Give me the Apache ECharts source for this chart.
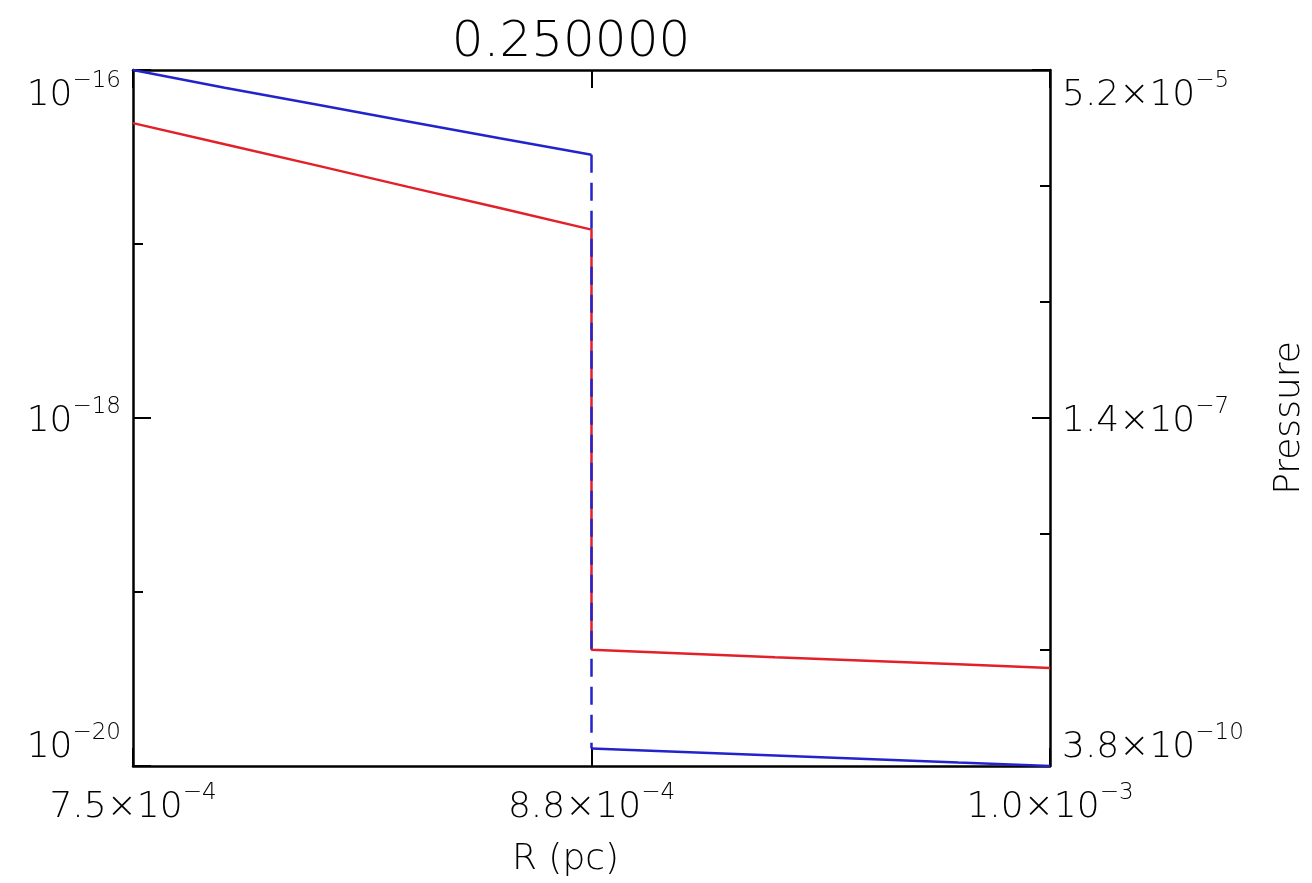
<!DOCTYPE html>
<html>
<head>
<meta charset="utf-8">
<script src="https://cdn.jsdelivr.net/npm/echarts@6/dist/echarts.min.js"></script>
<style>
  html, body { margin: 0; padding: 0; background: #ffffff; }
  #chart { width: 1312px; height: 883px; }
</style>
</head>
<body>
<div id="chart"></div>
<script>
// Shell profile at t = 0.25: density (left, log) and pressure (right, log) against radius.
const radiusInner   = [7.50e-4, 7.75e-4, 8.00e-4, 8.25e-4, 8.50e-4, 8.75e-4];
const densityInner  = [4.95e-17, 3.74e-17, 2.83e-17, 2.13e-17, 1.61e-17, 1.21e-17];
const pressureInner = [5.20e-5, 3.84e-5, 2.89e-5, 2.17e-5, 1.63e-5, 1.23e-5];

const radiusOuter   = [8.75e-4, 9.00e-4, 9.25e-4, 9.50e-4, 9.75e-4, 1.00e-3];
const densityOuter  = [4.65e-20, 4.43e-20, 4.22e-20, 4.03e-20, 3.84e-20, 3.66e-20];
const pressureOuter = [5.11e-10, 4.82e-10, 4.54e-10, 4.28e-10, 4.03e-10, 3.80e-10];

// Labelled ticks on each axis
const radiusTicks   = [7.5e-4, 8.75e-4, 1.0e-3];
const densityTicks  = [1e-20, 1e-18, 1e-16];
const pressureTicks = [3.8e-10, 1.4e-7, 5.2e-5];

const plotTitle = '0.250000';
const xName = 'R (pc)';
const rightName = 'Pressure';

const FONT = "'DejaVu Sans ExtraLight', 'DejaVu Sans', sans-serif";
const FW = 200;
const INK = '#000000';
const RED = '#e3202a';
const BLUE = '#2323cc';

// "m.m×10^e" (or "10^e") as rich text with a raised exponent
function sci(val, withMantissa) {
  let exp = Math.floor(Math.log10(val) + 1e-9);
  let mant = Math.round(val / Math.pow(10, exp) * 1e6) / 1e6;
  if (mant >= 9.95) { mant /= 10; exp += 1; }
  const sup = (exp < 0 ? '\u2212' : '') + Math.abs(exp);
  return (withMantissa ? '{b|' + mant.toFixed(1) + '\u00d710}' : '{b|10}') + '{s|' + sup + '}';
}

const richSci = {
  b: { fontFamily: FONT, fontWeight: FW, fontSize: 36, lineHeight: 44, verticalAlign: 'bottom', color: INK },
  s: { fontFamily: FONT, fontWeight: FW, fontSize: 23, lineHeight: 14, verticalAlign: 'top', color: INK }
};

const lg = Math.log10;
const densMin = lg(densityTicks[0]), densMax = lg(densityTicks[densityTicks.length - 1]);
const presMin = lg(pressureTicks[0]), presMax = lg(pressureTicks[pressureTicks.length - 1]);
const xMin = radiusTicks[0], xMax = radiusTicks[radiusTicks.length - 1];

const densitySeries = radiusInner.map((r, i) => [r, lg(densityInner[i])])
  .concat(radiusOuter.map((r, i) => [r, lg(densityOuter[i])]));
const pressureInnerSeries = radiusInner.map((r, i) => [r, lg(pressureInner[i])]);
const pressureOuterSeries = radiusOuter.map((r, i) => [r, lg(pressureOuter[i])]);
const pressureJump = [
  pressureInnerSeries[pressureInnerSeries.length - 1],
  pressureOuterSeries[0]
];

const axisLine = { show: true, onZero: false, lineStyle: { color: INK, width: 2.5 } };
const tickStyle = { color: INK, width: 2 };

const chart = echarts.init(document.getElementById('chart'), null, { renderer: 'canvas' });
chart.setOption({
  backgroundColor: '#ffffff',
  animation: false,
  title: {
    text: plotTitle,
    left: 566,
    top: 13,
    textAlign: 'center',
    textStyle: { fontFamily: FONT, fontSize: 50, fontWeight: FW, color: INK, lineHeight: 50 }
  },
  grid: { left: 133, right: 262, top: 70, bottom: 117, containLabel: false, outerBoundsMode: 'none' },
  xAxis: [
    {
      type: 'value', position: 'bottom',
      min: xMin, max: xMax, interval: (xMax - xMin) / (radiusTicks.length - 1),
      axisLine: axisLine,
      axisTick: { show: true, inside: true, length: 18, lineStyle: tickStyle },
      splitLine: { show: false },
      axisLabel: {
        margin: 16, rich: richSci,
        formatter: v => sci(v, true)
      },
      name: xName, nameLocation: 'middle', nameGap: 76,
      nameTextStyle: { fontFamily: FONT, fontWeight: FW, fontSize: 36, color: INK, padding: [0, 52, 0, 0] }
    },
    {
      type: 'value', position: 'top',
      min: xMin, max: xMax, interval: (xMax - xMin) / (radiusTicks.length - 1),
      axisLine: axisLine,
      axisTick: { show: true, inside: true, length: 18, lineStyle: tickStyle },
      splitLine: { show: false },
      axisLabel: { show: false }
    }
  ],
  yAxis: [
    {
      type: 'value', position: 'left',
      min: densMin, max: densMax, interval: (densMax - densMin) / (densityTicks.length - 1),
      axisLine: axisLine,
      axisTick: { show: true, inside: true, length: 18, lineStyle: tickStyle },
      minorTick: { show: true, splitNumber: 2, length: 10, lineStyle: tickStyle },
      splitLine: { show: false },
      minorSplitLine: { show: false },
      axisLabel: {
        margin: 12, rich: richSci,
        verticalAlignMaxLabel: 'top', verticalAlignMinLabel: 'bottom',
        formatter: v => sci(Math.pow(10, v), false)
      }
    },
    {
      type: 'value', position: 'right',
      min: presMin, max: presMax, interval: (presMax - presMin) / (pressureTicks.length - 1),
      axisLine: axisLine,
      axisTick: { show: true, inside: true, length: 18, lineStyle: tickStyle },
      minorTick: { show: true, splitNumber: 3, length: 10, lineStyle: tickStyle },
      splitLine: { show: false },
      minorSplitLine: { show: false },
      axisLabel: {
        margin: 12, rich: richSci,
        verticalAlignMaxLabel: 'top', verticalAlignMinLabel: 'bottom',
        formatter: v => sci(Math.pow(10, v), true)
      },
      name: rightName, nameLocation: 'middle', nameRotate: 90, nameGap: 222,
      nameTextStyle: { fontFamily: FONT, fontWeight: FW, fontSize: 36, color: INK }
    }
  ],
  series: [
    {
      name: 'Density', type: 'line', xAxisIndex: 0, yAxisIndex: 0,
      data: densitySeries, showSymbol: false, symbol: 'none', clip: false,
      lineStyle: { color: RED, width: 2.5 }, z: 2
    },
    {
      name: 'Pressure', type: 'line', xAxisIndex: 0, yAxisIndex: 1,
      data: pressureInnerSeries, showSymbol: false, symbol: 'none', clip: false,
      lineStyle: { color: BLUE, width: 2.5 }, z: 3
    },
    {
      name: 'Pressure jump', type: 'line', xAxisIndex: 0, yAxisIndex: 1,
      data: pressureJump, showSymbol: false, symbol: 'none', clip: false,
      lineStyle: { color: BLUE, width: 2.5, type: [18, 10] }, z: 3
    },
    {
      name: 'Pressure outer', type: 'line', xAxisIndex: 0, yAxisIndex: 1,
      data: pressureOuterSeries, showSymbol: false, symbol: 'none', clip: false,
      lineStyle: { color: BLUE, width: 2.5 }, z: 3
    }
  ]
});
</script>
</body>
</html>
